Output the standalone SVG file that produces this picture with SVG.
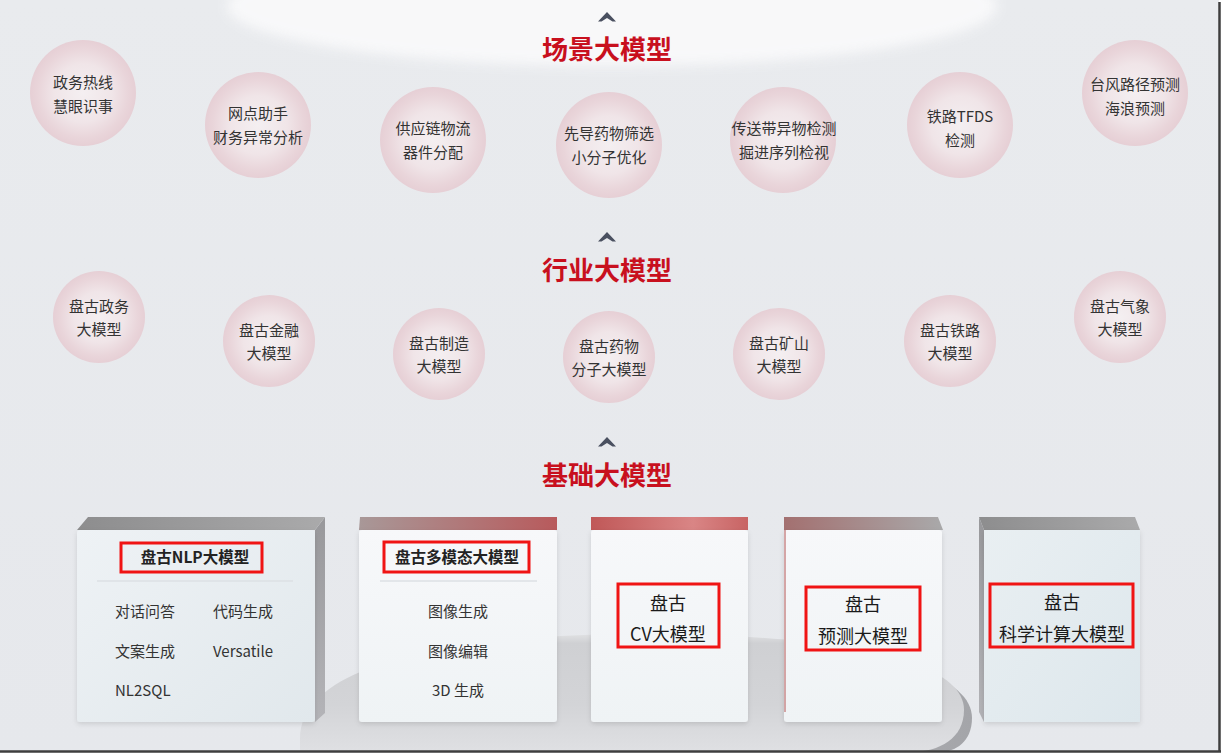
<svg xmlns="http://www.w3.org/2000/svg" width="1222" height="755" viewBox="0 0 1222 755">
<defs>
  <style>
    .t { font-family: "Noto Sans CJK SC", "Liberation Sans", sans-serif; fill: #333; font-size: 15px; }
    .c { text-anchor: middle; }
    .title { font-family: "Noto Sans CJK SC", "Liberation Sans", sans-serif; font-size: 26px; font-weight: bold; fill: #c8101e; text-anchor: middle; }
    .hd { font-family: "Noto Sans CJK SC", "Liberation Sans", sans-serif; font-size: 15.5px; font-weight: bold; fill: #222; text-anchor: middle; }
    .big { font-family: "Noto Sans CJK SC", "Liberation Sans", sans-serif; font-size: 18px; fill: #1a1a1a; text-anchor: middle; }
    .bubble { fill: url(#bub); }
    .redbox { fill: none; stroke: #f01414; stroke-width: 3; }
    .sep { stroke: #dce1e5; stroke-width: 1.5; }
    .chev { fill: #4a5060; }
  </style>
  <radialGradient id="bub" cx="0.5" cy="0.5" r="0.5">
    <stop offset="0" stop-color="#f4eff1"/>
    <stop offset="0.55" stop-color="#f0e5e8"/>
    <stop offset="0.85" stop-color="#e9d5da"/>
    <stop offset="1" stop-color="#e6cfd5"/>
  </radialGradient>
  <linearGradient id="bg" x1="0" y1="0" x2="0" y2="1">
    <stop offset="0" stop-color="#e9ebee"/>
    <stop offset="1" stop-color="#e6e8ec"/>
  </linearGradient>
  <filter id="blur" x="-0.1" y="-0.5" width="1.2" height="2">
    <feGaussianBlur stdDeviation="6"/>
  </filter>
  <filter id="shadow" x="-0.1" y="-0.1" width="1.2" height="1.2">
    <feDropShadow dx="0" dy="2" stdDeviation="2.5" flood-color="#000" flood-opacity="0.12"/>
  </filter>
  <linearGradient id="podTop" x1="0" y1="0" x2="0" y2="1">
    <stop offset="0" stop-color="#e0e1e3"/>
    <stop offset="0.08" stop-color="#cfd0d3"/>
    <stop offset="0.6" stop-color="#d3d4d7"/>
    <stop offset="1" stop-color="#dfe0e3"/>
  </linearGradient>
  <linearGradient id="podRim" x1="0" y1="0" x2="1" y2="0">
    <stop offset="0" stop-color="#cfd0d3"/>
    <stop offset="1" stop-color="#a4a5a9"/>
  </linearGradient>
  <linearGradient id="grayTop" x1="0" y1="0" x2="1" y2="0">
    <stop offset="0" stop-color="#8d8d8e"/>
    <stop offset="1" stop-color="#aaaaab"/>
  </linearGradient>
  <linearGradient id="graySide" x1="0" y1="0" x2="0" y2="1">
    <stop offset="0" stop-color="#98989b"/>
    <stop offset="1" stop-color="#b4b4b8"/>
  </linearGradient>
  <linearGradient id="mmTop" x1="0" y1="0" x2="1" y2="0">
    <stop offset="0" stop-color="#a89898"/>
    <stop offset="1" stop-color="#b85a5c"/>
  </linearGradient>
  <linearGradient id="cvTop" x1="0" y1="0" x2="1" y2="0">
    <stop offset="0" stop-color="#c05858"/>
    <stop offset="0.65" stop-color="#d98585"/>
    <stop offset="1" stop-color="#c86464"/>
  </linearGradient>
  <linearGradient id="ycTop" x1="0" y1="0" x2="1" y2="0">
    <stop offset="0" stop-color="#a37070"/>
    <stop offset="1" stop-color="#a9a9aa"/>
  </linearGradient>
  <linearGradient id="frontA" x1="0" y1="0" x2="1" y2="1">
    <stop offset="0" stop-color="#eef2f5"/>
    <stop offset="1" stop-color="#e1e8ec"/>
  </linearGradient>
  <linearGradient id="frontB" x1="0" y1="0" x2="0" y2="1">
    <stop offset="0" stop-color="#f7f8fa"/>
    <stop offset="1" stop-color="#eff3f5"/>
  </linearGradient>
  <linearGradient id="frontC" x1="0" y1="0" x2="1" y2="1">
    <stop offset="0" stop-color="#e9eff2"/>
    <stop offset="1" stop-color="#dde7ec"/>
  </linearGradient>
</defs>

<!-- background -->
<rect x="0" y="0" width="1222" height="755" fill="#ffffff"/>
<rect x="0" y="0" width="1219" height="751" fill="url(#bg)"/>
<ellipse cx="612" cy="6" rx="385" ry="60" fill="#fbfbfc" opacity="0.85" filter="url(#blur)"/>

<!-- podium -->
<g id="podium">
  <path d="M306,745 C306,668 470,640 645,640 C850,640 972,668 972,718 C972,742 955,752 940,752 L306,752 Z" fill="url(#podRim)"/>
  <path d="M300,738 C300,662 462,634 640,634 C842,634 964,660 964,710 C964,738 940,752 910,752 L300,752 Z" fill="url(#podTop)"/>
</g>

<!-- connectors (chevrons) -->
<g id="connectors">
  <polygon class="chev" points="598,21.5 607,12 616,21.5 612.5,21.5 607,18 601.5,21.5"/>
  <polygon class="chev" points="598,241.5 607,232 616,241.5 612.5,241.5 607,238 601.5,241.5"/>
  <polygon class="chev" points="598,446.5 607,437 616,446.5 612.5,446.5 607,443 601.5,446.5"/>
</g>

<!-- titles -->
<g id="title-scene"><text class="title" x="607" y="59">场景大模型</text></g>
<g id="title-industry"><text class="title" x="607" y="280">行业大模型</text></g>
<g id="title-base"><text class="title" x="607" y="485">基础大模型</text></g>

<!-- scene bubbles -->
<g id="s1"><circle class="bubble" cx="83" cy="93" r="53"/><text class="t c" x="83" y="88">政务热线</text><text class="t c" x="83" y="112">慧眼识事</text></g>
<g id="s2"><circle class="bubble" cx="258" cy="125" r="53"/><text class="t c" x="258" y="119">网点助手</text><text class="t c" x="258" y="143">财务异常分析</text></g>
<g id="s3"><circle class="bubble" cx="433" cy="140" r="53"/><text class="t c" x="433" y="134">供应链物流</text><text class="t c" x="433" y="158">器件分配</text></g>
<g id="s4"><circle class="bubble" cx="609" cy="145" r="53"/><text class="t c" x="609" y="139">先导药物筛选</text><text class="t c" x="609" y="163">小分子优化</text></g>
<g id="s5"><circle class="bubble" cx="783" cy="140" r="53"/><text class="t c" x="784" y="134">传送带异物检测</text><text class="t c" x="784" y="158">掘进序列检视</text></g>
<g id="s6"><circle class="bubble" cx="960" cy="125" r="53"/><text class="t c" x="960" y="122">铁路TFDS</text><text class="t c" x="960" y="146">检测</text></g>
<g id="s7"><circle class="bubble" cx="1135" cy="93" r="53"/><text class="t c" x="1135" y="90">台风路径预测</text><text class="t c" x="1135" y="114">海浪预测</text></g>

<!-- industry bubbles -->
<g id="i1"><circle class="bubble" cx="99" cy="317" r="46"/><text class="t c" x="99" y="312">盘古政务</text><text class="t c" x="99" y="335">大模型</text></g>
<g id="i2"><circle class="bubble" cx="269" cy="341" r="46"/><text class="t c" x="269" y="336">盘古金融</text><text class="t c" x="269" y="359">大模型</text></g>
<g id="i3"><circle class="bubble" cx="439" cy="354" r="46"/><text class="t c" x="439" y="349">盘古制造</text><text class="t c" x="439" y="372">大模型</text></g>
<g id="i4"><circle class="bubble" cx="609" cy="357" r="46"/><text class="t c" x="609" y="352">盘古药物</text><text class="t c" x="609" y="375">分子大模型</text></g>
<g id="i5"><circle class="bubble" cx="779" cy="354" r="46"/><text class="t c" x="779" y="349">盘古矿山</text><text class="t c" x="779" y="372">大模型</text></g>
<g id="i6"><circle class="bubble" cx="950" cy="341" r="46"/><text class="t c" x="950" y="336">盘古铁路</text><text class="t c" x="950" y="359">大模型</text></g>
<g id="i7"><circle class="bubble" cx="1120" cy="317" r="46"/><text class="t c" x="1120" y="312">盘古气象</text><text class="t c" x="1120" y="335">大模型</text></g>

<!-- base model boxes -->
<g id="b-nlp">
  <polygon points="315,530 325,517 325,713 315,722" fill="url(#graySide)"/>
  <polygon points="77,530 88,517 325,517 315,530" fill="url(#grayTop)"/>
  <rect x="77" y="530" width="238" height="192" rx="3" fill="url(#frontA)" filter="url(#shadow)"/>
  <rect class="redbox" x="121" y="543" width="141" height="29"/>
  <text class="hd" x="195" y="563">盘古NLP大模型</text>
  <line class="sep" x1="97" y1="581" x2="293" y2="581"/>
  <text class="t" x="115" y="617">对话问答</text>
  <text class="t" x="213" y="617">代码生成</text>
  <text class="t" x="115" y="657">文案生成</text>
  <text class="t" x="213" y="657">Versatile</text>
  <text class="t" x="115" y="696">NL2SQL</text>
</g>

<g id="b-mm">
  <polygon points="360,517 557,517 557,530 359,530" fill="url(#mmTop)"/>
  <rect x="359" y="530" width="198" height="192" rx="3" fill="url(#frontB)" filter="url(#shadow)"/>
  <rect class="redbox" x="384" y="542" width="145" height="30"/>
  <text class="hd" x="457" y="563">盘古多模态大模型</text>
  <line class="sep" x1="380" y1="581" x2="537" y2="581"/>
  <text class="t c" x="458" y="617">图像生成</text>
  <text class="t c" x="458" y="657">图像编辑</text>
  <text class="t c" x="458" y="696">3D 生成</text>
</g>

<g id="b-cv">
  <polygon points="591,517 748,517 748,530 591,530" fill="url(#cvTop)"/>
  <rect x="591" y="530" width="157" height="192" rx="3" fill="url(#frontB)" filter="url(#shadow)"/>
  <rect class="redbox" x="618" y="584" width="101" height="63"/>
  <text class="big" x="668" y="610">盘古</text>
  <text class="big" x="668" y="641">CV大模型</text>
</g>

<g id="b-yc">
  <polygon points="784,517 938,517 943,530 784,530" fill="url(#ycTop)"/>
  <rect x="784" y="530" width="158" height="192" rx="3" fill="url(#frontB)" filter="url(#shadow)"/>
  <line x1="785" y1="530" x2="785" y2="712" stroke="#c98a8a" stroke-width="1.5"/>
  <rect class="redbox" x="806" y="587" width="114" height="63"/>
  <text class="big" x="863" y="611">盘古</text>
  <text class="big" x="863" y="643">预测大模型</text>
</g>

<g id="b-sci">
  <polygon points="979,517 984,530 984,722 979,712" fill="url(#graySide)"/>
  <polygon points="979,517 1135,517 1140,530 984,530" fill="url(#grayTop)"/>
  <rect x="984" y="530" width="156" height="192" fill="url(#frontC)" filter="url(#shadow)"/>
  <rect class="redbox" x="990" y="584" width="143" height="63"/>
  <text class="big" x="1062" y="609">盘古</text>
  <text class="big" x="1062" y="641">科学计算大模型</text>
</g>

<!-- frame edges -->
<line x1="1219.5" y1="2" x2="1219.5" y2="752" stroke="#3e3e3e" stroke-width="2.5"/>
<line x1="0" y1="751.5" x2="1221" y2="751.5" stroke="#3e3e3e" stroke-width="2.5"/>
</svg>
